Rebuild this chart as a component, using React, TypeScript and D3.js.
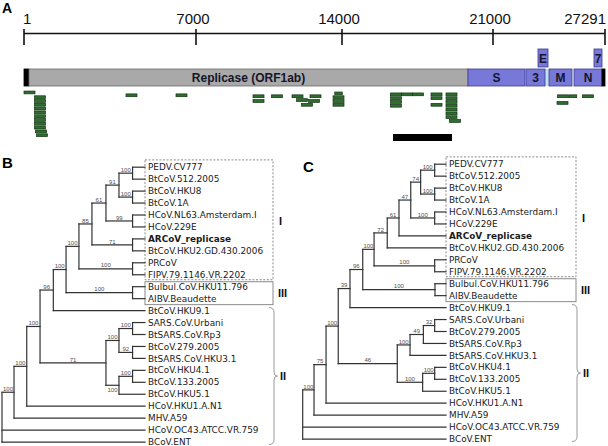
import React from 'react';
import * as d3 from 'd3';

const W = 608;
const H = 446;

// ---------- Panel A data ----------
const axisTicks = [1, 7000, 14000, 21000, 27291];
const axisTickLabels = ['1', '7000', '14000', '21000', '27291'];

const geneNames = ['', 'Replicase (ORF1ab)', 'S', '3', 'M', 'N', ''];
const geneStart = [1, 204, 19841, 22853, 24146, 25550, 27123];
const geneEnd = [204, 19841, 22797, 23921, 25438, 27123, 27291];
const geneKind = ['cap', 'rep', 'st', 'st', 'st', 'st', 'cap'];

const upperGeneNames = ['E', '7'];
const upperGeneStart = [23528, 26673];
const upperGeneEnd = [24090, 27123];

const gapStart = 23921;
const gapEnd = 24146;

// peptide hits (position in genome, stack level)
const markPos = [
  225,
  652, 652, 652, 652, 652, 652, 652, 652, 652, 693, 733,
  4375, 6410,
  9997, 9997, 10884,
  11867, 12083, 12322, 12730, 12658,
  13833, 13833, 13833, 13833,
  16503, 16503, 16503, 16503,
  17013, 17523,
  18381, 18381, 18381,
  19076, 19076, 19076, 19076, 19076, 19076, 19076, 19239,
  24932, 24904, 25494, 26336,
];
const markLevel = [
  -0.25,
  1, 2, 3, 4, 5, 6, 7, 8, 9, 10, 11,
  0.5, 0.5,
  0.75, 2, 0.75,
  0.75, 1.75, 3, 0.75, 2,
  0, 1, 2, 3,
  0.25, 1.25, 2.25, 3.25,
  0.25, 0.25,
  0.25, 1.25, 3,
  0.25, 1.25, 2.25, 3.25, 4.25, 5.25, 6.25, 7.25,
  0.75, 2.5, 0.75, 0.75,
];
const markNarrow = [25494, 13833];

const scaleBar = [16364, 19099];

// ---------- Trees ----------
type NodeRow = [string, string, number | null, number];

const treeB: NodeRow[] = [
  ['root', '', null, 0],
  ['n1', 'root', 100, 8.4],
  ['HCoV.OC43.ATCC.VR.759', 'root', null, 100],
  ['BCoV.ENT', 'root', null, 100],
  ['n2', 'n1', 100, 17.3],
  ['MHV.A59', 'n1', null, 100],
  ['n3', 'n2', 100, 26.6],
  ['HCoV.HKU1.A.N1', 'n2', null, 100],
  ['n4', 'n3', 96, 35.9],
  ['n16', 'n3', 71, 72.7],
  ['n5', 'n4', 100, 44.8],
  ['BtCoV.HKU9.1', 'n4', null, 100],
  ['n6', 'n5', 100, 53.8],
  ['n15', 'n5', 100, 91.3],
  ['n7', 'n6', 85, 62.9],
  ['n14', 'n6', 100, 91.3],
  ['n8', 'n7', 61, 72.7],
  ['n13', 'n7', 71, 91.3],
  ['n9', 'n8', 91, 81.8],
  ['n12', 'n8', 99, 91.3],
  ['n10', 'n9', 100, 91.3],
  ['n11', 'n9', 100, 91.3],
  ['PEDV.CV777', 'n10', null, 100],
  ['BtCoV.512.2005', 'n10', null, 100],
  ['BtCoV.HKU8', 'n11', null, 100],
  ['BtCoV.1A', 'n11', null, 100],
  ['HCoV.NL63.Amsterdam.I', 'n12', null, 100],
  ['HCoV.229E', 'n12', null, 100],
  ['ARCoV_replicase', 'n13', null, 100],
  ['BtCoV.HKU2.GD.430.2006', 'n13', null, 100],
  ['PRCoV', 'n14', null, 100],
  ['FIPV.79.1146.VR.2202', 'n14', null, 100],
  ['Bulbul.CoV.HKU11.796', 'n15', null, 100],
  ['AIBV.Beaudette', 'n15', null, 100],
  ['n17', 'n16', 100, 81.8],
  ['n20', 'n16', 100, 81.8],
  ['n18', 'n17', 100, 91.3],
  ['n19', 'n17', 92, 91.3],
  ['SARS.CoV.Urbani', 'n18', null, 100],
  ['BtSARS.CoV.Rp3', 'n18', null, 100],
  ['BtCoV.279.2005', 'n19', null, 100],
  ['BtSARS.CoV.HKU3.1', 'n19', null, 100],
  ['n21', 'n20', 100, 91.3],
  ['BtCoV.HKU5.1', 'n20', null, 100],
  ['BtCoV.HKU4.1', 'n21', null, 100],
  ['BtCoV.133.2005', 'n21', null, 100],
];
const treeBLabelBelow = ['n20'];

const treeC: NodeRow[] = [
  ['root', '', null, 0],
  ['c1', 'root', 100, 7.9],
  ['HCoV.OC43.ATCC.VR.759', 'root', null, 100],
  ['BCoV.ENT', 'root', null, 100],
  ['c2', 'c1', 75, 16.3],
  ['MHV.A59', 'c1', null, 100],
  ['c3', 'c2', 100, 24.8],
  ['HCoV.HKU1.A.N1', 'c2', null, 100],
  ['c4', 'c3', 39, 33.0],
  ['c16', 'c3', 46, 66.0],
  ['c5', 'c4', 96, 41.9],
  ['BtCoV.HKU9.1', 'c4', null, 100],
  ['c6', 'c5', 100, 49.8],
  ['c15', 'c5', 100, 92.3],
  ['c7', 'c6', 72, 59.0],
  ['c14', 'c6', 100, 92.1],
  ['c8', 'c7', 61, 67.2],
  ['BtCoV.HKU2.GD.430.2006', 'c7', null, 100],
  ['c9', 'c8', 47, 75.4],
  ['ARCoV_replicase', 'c8', null, 100],
  ['c10', 'c9', 74, 82.3],
  ['c13', 'c9', 100, 92.1],
  ['c11', 'c10', 100, 92.1],
  ['c12', 'c10', 100, 92.1],
  ['PEDV.CV777', 'c11', null, 100],
  ['BtCoV.512.2005', 'c11', null, 100],
  ['BtCoV.HKU8', 'c12', null, 100],
  ['BtCoV.1A', 'c12', null, 100],
  ['HCoV.NL63.Amsterdam.I', 'c13', null, 100],
  ['HCoV.229E', 'c13', null, 100],
  ['PRCoV', 'c14', null, 100],
  ['FIPV.79.1146.VR.2202', 'c14', null, 100],
  ['Bulbul.CoV.HKU11.796', 'c15', null, 100],
  ['AIBV.Beaudette', 'c15', null, 100],
  ['c17', 'c16', 100, 74.9],
  ['c20', 'c16', 100, 83.7],
  ['c18', 'c17', 49, 84.2],
  ['BtSARS.CoV.HKU3.1', 'c17', null, 100],
  ['c19', 'c18', 32, 92.1],
  ['BtSARS.CoV.Rp3', 'c18', null, 100],
  ['SARS.CoV.Urbani', 'c19', null, 100],
  ['BtCoV.279.2005', 'c19', null, 100],
  ['c21', 'c20', 100, 92.1],
  ['BtCoV.HKU5.1', 'c20', null, 100],
  ['BtCoV.HKU4.1', 'c21', null, 100],
  ['BtCoV.133.2005', 'c21', null, 100],
];
const treeCLabelBelow: string[] = [];

const boldLeaves = ['ARCoV_replicase'];
const groupNames = ['I', 'III', 'II'];
const groupFirst = ['PEDV.CV777', 'Bulbul.CoV.HKU11.796', 'BtCoV.HKU9.1'];
const groupLast = ['FIPV.79.1146.VR.2202', 'AIBV.Beaudette', 'BCoV.ENT'];

const SANS = 'Liberation Sans, Arial, Helvetica, sans-serif';
const LEAF_FONT = 'DejaVu Sans, Verdana, sans-serif';

type TreeProps = {
  rows: NodeRow[];
  rootX: number;
  leafX: number;
  y0: number;
  labelBelow: string[];
  boxRight: number;
};

function Tree({ rows, rootX, leafX, y0, labelBelow, boxRight }: TreeProps) {
  const root = d3
    .stratify<NodeRow>()
    .id((d) => d[0])
    .parentId((d) => (d[1] === '' ? null : d[1]))(rows);
  const leaves = root.leaves();
  const xs = d3.scaleLinear().domain([0, 100]).range([rootX, leafX]);
  const ys = d3.scaleLinear().domain([0, leaves.length - 1]).range([y0, y0 + (leaves.length - 1) * 11.95]);
  const pos = new Map<string, { x: number; y: number }>();
  leaves.forEach((l, i) => pos.set(l.id as string, { x: xs(l.data[3]), y: ys(i) }));
  root.eachAfter((n) => {
    if (n.children) {
      const a = pos.get(n.children[0].id as string)!;
      const b = pos.get(n.children[n.children.length - 1].id as string)!;
      pos.set(n.id as string, { x: xs(n.data[3]), y: (a.y + b.y) / 2 });
    }
  });
  const lines: JSX.Element[] = [];
  const labels: JSX.Element[] = [];
  root.each((n) => {
    const p = pos.get(n.id as string)!;
    if (n.parent) {
      const pp = pos.get(n.parent.id as string)!;
      lines.push(<line key={'h' + n.id} x1={pp.x} x2={p.x} y1={p.y} y2={p.y} />);
      if (n.data[2] !== null) {
        const below = labelBelow.includes(n.id as string);
        labels.push(
          <text key={'s' + n.id} x={(pp.x + p.x) / 2} y={below ? p.y + 6.5 : p.y - 1.3} textAnchor="middle" fontSize={6} fill="#505050" fontFamily={SANS}>
            {n.data[2]}
          </text>
        );
      }
    }
    if (n.children) {
      const a = pos.get(n.children[0].id as string)!;
      const b = pos.get(n.children[n.children.length - 1].id as string)!;
      lines.push(<line key={'v' + n.id} x1={p.x} x2={p.x} y1={a.y} y2={b.y} />);
    }
  });
  const gy = (name: string) => pos.get(name)!.y;
  const gI0 = gy(groupFirst[0]);
  const gI1 = gy(groupLast[0]);
  const g30 = gy(groupFirst[1]);
  const g31 = gy(groupLast[1]);
  const g20 = gy(groupFirst[2]);
  const g21 = gy(groupLast[2]);
  const mid13 = (gI1 + g30) / 2;
  const bTop = g20 - 3;
  const bBot = g21 + 2.5;
  const bMid = (bTop + bBot) / 2;
  const bx = boxRight + 1;
  const brace = `M ${bx - 5} ${bTop} Q ${bx} ${bTop} ${bx} ${bTop + 5} L ${bx} ${bMid - 4} Q ${bx} ${bMid} ${bx + 3.5} ${bMid} Q ${bx} ${bMid} ${bx} ${bMid + 4} L ${bx} ${bBot - 5} Q ${bx} ${bBot} ${bx - 5} ${bBot}`;
  return (
    <g>
      <rect x={leafX} y={gI0 - 7.3} width={boxRight - leafX} height={mid13 - 1 - (gI0 - 7.3)} fill="none" stroke="#8a8a8a" strokeWidth={1} strokeDasharray="2,1.6" />
      <rect x={leafX} y={mid13 + 1} width={boxRight - leafX} height={g31 + 6 - (mid13 + 1)} fill="none" stroke="#8a8a8a" strokeWidth={1} />
      <path d={brace} fill="none" stroke="#9a9a9a" strokeWidth={1} />
      <text x={boxRight + 6} y={(gI0 + gI1) / 2 + 4} fontSize={11} fontWeight="bold" fontFamily={SANS} fill="#111">{groupNames[0]}</text>
      <text x={boxRight + 5} y={(g30 + g31) / 2 + 4} fontSize={11} fontWeight="bold" fontFamily={SANS} fill="#111">{groupNames[1]}</text>
      <text x={boxRight + 7} y={bMid + 4} fontSize={11} fontWeight="bold" fontFamily={SANS} fill="#111">{groupNames[2]}</text>
      <g stroke="#333" strokeWidth={1.2} strokeLinecap="square">{lines}</g>
      {labels}
      {leaves.map((l) => {
        const p = pos.get(l.id as string)!;
        const bold = boldLeaves.includes(l.id as string);
        return (
          <text key={'l' + l.id} x={p.x + 3} y={p.y + 3.1} fontSize={8.9} fontFamily={LEAF_FONT} fontWeight={bold ? 'bold' : 'normal'} fill="#1a1a1a">
            {l.id}
          </text>
        );
      })}
    </g>
  );
}

export default function App() {
  const x = d3.scaleLinear().domain(axisTicks).range([24, 196, 342, 493, 605]);
  const barY = 69;
  const barH = 17;
  const markY = d3.scaleLinear().domain([0, 1]).range([92, 95.8]);
  return (
    <svg width={W} height={H} style={{ position: 'absolute', left: 0, top: 0, background: '#fff' }}>
      {/* Panel A */}
      <text x={2} y={13} fontSize={14} fontWeight="bold" fontFamily={SANS}>A</text>
      <line x1={x(axisTicks[0])} x2={x(axisTicks[axisTicks.length - 1])} y1={33.5} y2={33.5} stroke="#111" strokeWidth={1.5} />
      {axisTicks.map((t, i) => (
        <g key={'t' + t}>
          <line x1={x(t)} x2={x(t)} y1={29} y2={45} stroke="#111" strokeWidth={1.6} />
          <text
            x={i === 0 ? x(t) - 1 : i === axisTicks.length - 1 ? x(t) + 1 : x(t) - 3}
            y={23.5}
            fontSize={15}
            fontFamily={SANS}
            textAnchor={i === 0 ? 'start' : i === axisTicks.length - 1 ? 'end' : 'middle'}
            fill="#111"
          >
            {axisTickLabels[i]}
          </text>
        </g>
      ))}
      <rect x={x(gapStart)} y={barY} width={x(gapEnd) - x(gapStart)} height={barH} fill="#bfe3ec" />
      {geneNames.map((g, i) => {
        const x0 = x(geneStart[i]);
        const x1 = x(geneEnd[i]);
        const fill = geneKind[i] === 'cap' ? '#000' : geneKind[i] === 'rep' ? '#a9a9a9' : '#7878d8';
        const stroke = geneKind[i] === 'cap' ? '#000' : geneKind[i] === 'rep' ? '#6a6a6a' : '#3c3c92';
        return (
          <g key={'g' + i}>
            <rect x={x0} y={barY} width={x1 - x0} height={barH} fill={fill} stroke={stroke} strokeWidth={0.8} />
            {g && (
              <text x={(x0 + x1) / 2} y={barY + 13.3} textAnchor="middle" fontSize={12} fontWeight="bold" fontFamily={SANS} fill="#15152a">
                {g}
              </text>
            )}
          </g>
        );
      })}
      {upperGeneNames.map((g, i) => {
        const x0 = x(upperGeneStart[i]);
        const x1 = x(upperGeneEnd[i]);
        return (
          <g key={'u' + i}>
            <rect x={x0} y={49} width={x1 - x0} height={18} fill="#7878d8" stroke="#3c3c92" strokeWidth={0.8} />
            <text x={(x0 + x1) / 2} y={63} textAnchor="middle" fontSize={12} fontWeight="bold" fontFamily={SANS} fill="#15152a">
              {g}
            </text>
          </g>
        );
      })}
      {markPos.map((p, i) => {
        const narrow = markNarrow.includes(p) && markLevel[i] <= 0.75;
        const w = narrow ? 7.5 : 11;
        return (
          <rect key={'m' + i} x={x(p) - w / 2} y={markY(markLevel[i])} width={w} height={2.8} fill="#2e6e2e" stroke="#123412" strokeWidth={0.7} />
        );
      })}
      <rect x={x(scaleBar[0])} y={134} width={x(scaleBar[1]) - x(scaleBar[0])} height={7} fill="#000" />

      {/* Panel B */}
      <text x={2} y={168} fontSize={15} fontWeight="bold" fontFamily={SANS}>B</text>
      <Tree rows={treeB} rootX={2} leafX={145} y0={167.2} labelBelow={treeBLabelBelow} boxRight={273} />

      {/* Panel C */}
      <text x={303} y={172} fontSize={15} fontWeight="bold" fontFamily={SANS}>C</text>
      <Tree rows={treeC} rootX={302.7} leafX={446} y0={164.2} labelBelow={treeCLabelBelow} boxRight={576} />
    </svg>
  );
}
